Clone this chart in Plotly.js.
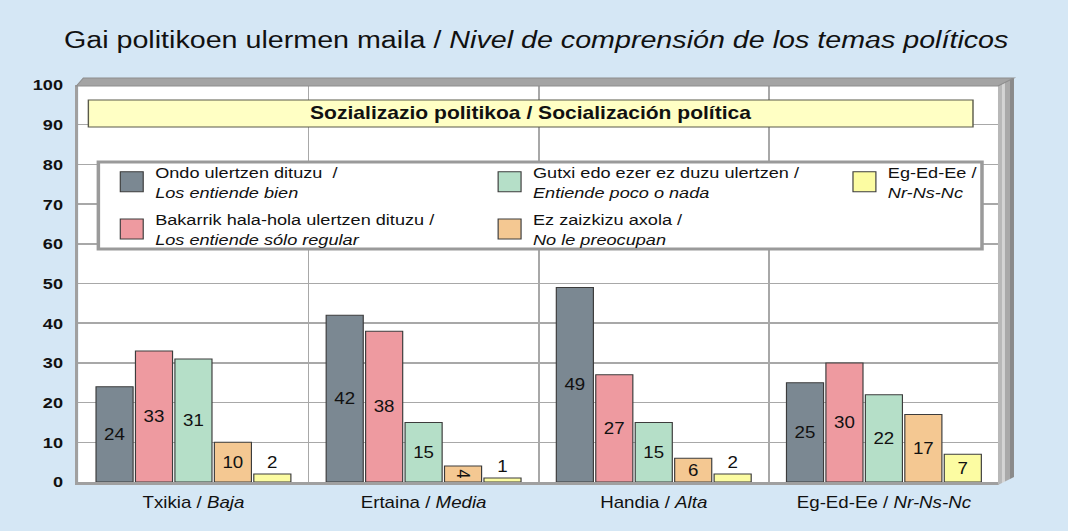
<!DOCTYPE html>
<html>
<head>
<meta charset="utf-8">
<script src="https://cdn.plot.ly/plotly-3.0.1.min.js"></script>
<style>
  html, body { margin: 0; padding: 0; background: #d5e7f5; overflow: hidden; }
  #chart { width: 913px; height: 531px; transform: scaleX(1.16977); transform-origin: 0 0; }
</style>
</head>
<body>
<div id="chart"></div>
<script>
// ---- data ----
const categories = ["Txikia / <i>Baja</i>", "Ertaina / <i>Media</i>", "Handia / <i>Alta</i>", "Eg-Ed-Ee / <i>Nr-Ns-Nc</i>"];
const seriesNames = [
  "Ondo ulertzen dituzu  /<br><i>Los entiende bien</i>",
  "Bakarrik hala-hola ulertzen dituzu /<br><i>Los entiende sólo regular</i>",
  "Gutxi edo ezer ez duzu ulertzen /<br><i>Entiende poco o nada</i>",
  "Ez zaizkizu axola /<br><i>No le preocupan</i>",
  "Eg-Ed-Ee /<br><i>Nr-Ns-Nc</i>"
];
const ondo     = [24, 42, 49, 25];
const bakarrik = [33, 38, 27, 30];
const gutxi    = [31, 15, 15, 22];
const ezAxola  = [10, 4, 6, 17];
const egEdEe   = [2, 1, 2, 7];
const yTicks   = [0, 10, 20, 30, 40, 50, 60, 70, 80, 90, 100];
const titleText = "Gai politikoen ulermen maila / <i>Nivel de comprensión de los temas políticos</i>";
const bannerText = "<b>Sozializazio politikoa / Socialización política</b>";

// ---- style ----
const colors = ["#7b8892", "#ee9aa0", "#b5dfc8", "#f4c892", "#fcfca2"];
const legendsFor = ["legend", "legend", "legend2", "legend2", "legend3"];
const FONT = "Liberation Sans, Arial, sans-serif";

// the chart is drawn at natural width NW and stretched horizontally by S (as in the reference)
const REF_W = 1068, H = 531;
const NW = 913;
const S = REF_W / NW;
// plot area in reference px
const L = 78, R = 999, T = 85, B = 482;
const PW = R - L, PH = B - T;
const fx = px => (px - L) / PW;
const fy = py => (B - py) / PH;

const allSeries = [ondo, bakarrik, gutxi, ezAxola, egEdEe];
const traces = allSeries.map((vals, i) => ({
  type: "bar",
  name: seriesNames[i],
  x: categories,
  y: vals,
  text: vals.map(String),
  textposition: vals.map(v => v < 3 ? "outside" : "inside"),
  insidetextanchor: "middle",
  constraintext: "none",
  cliponaxis: false,
  textfont: { family: FONT, size: 16, color: "#111" },
  marker: { color: colors[i], line: { color: "#3c3c3c", width: 1 } },
  legend: legendsFor[i],
  legendgroup: "g" + i,
  hoverinfo: "skip"
}));

// frame shapes
const shapes = [];
const strips = [[998, 1002, "#b8b8b8"], [1002, 1005, "#d4d4d4"], [1005, 1010, "#a9a9a9"], [1010, 1014, "#8a8a8a"]];
const topY = x => 85 - (x - 998) * (7 / 16);
const botY = x => 485 - (x - 998) * (8 / 16);
strips.forEach(s => {
  const [a, b, c] = s;
  shapes.push({
    type: "path", xref: "paper", yref: "paper", layer: "above",
    path: `M${fx(a)},${fy(topY(a))} L${fx(b)},${fy(topY(b))} L${fx(b)},${fy(botY(b))} L${fx(a)},${fy(botY(a))} Z`,
    fillcolor: c, line: { width: 0 }
  });
});
shapes.push({
  type: "path", xref: "paper", yref: "paper", layer: "above",
  path: `M${fx(76)},${fy(86)} L${fx(83)},${fy(78)} L${fx(1014)},${fy(78)} L${fx(998)},${fy(86)} Z`,
  fillcolor: "#a4a4a4", line: { color: "#8e8e8e", width: 1 }
});
shapes.push({
  type: "rect", xref: "paper", yref: "paper", layer: "above",
  x0: fx(88), x1: fx(973), y0: fy(127), y1: fy(100),
  fillcolor: "#ffffc4", line: { color: "#5a5a4a", width: 1.2 }
});
shapes.push({
  type: "rect", xref: "paper", yref: "paper", layer: "above",
  x0: fx(98), x1: fx(982), y0: fy(249), y1: fy(162),
  fillcolor: "#ffffff", line: { color: "#9a9a9a", width: 3 }
});

const legendBase = {
  xref: "paper", yref: "paper", xanchor: "left", yanchor: "top",
  orientation: "v", bgcolor: "rgba(0,0,0,0)", borderwidth: 0,
  font: { family: FONT, size: 15.5, color: "#111" },
  tracegroupgap: 4, itemwidth: 30, itemclick: false, itemdoubleclick: false
};

const layout = {
  width: NW, height: H,
  paper_bgcolor: "#d5e7f5",
  plot_bgcolor: "#ffffff",
  margin: { l: L / S, r: (REF_W - R) / S, t: T, b: H - B, pad: 0 },
  font: { family: FONT, color: "#111" },
  title: {
    text: titleText,
    font: { family: FONT, size: 24.5, color: "#111" },
    x: 0.502, xref: "container", xanchor: "center",
    y: 1 - 39 / H, yref: "container", yanchor: "middle"
  },
  barmode: "group",
  bargap: 0.143,
  bargroupgap: 0.06,
  xaxis: {
    type: "category",
    tickson: "boundaries",
    showgrid: true, gridcolor: "#a8a8a8", gridwidth: 1.5,
    ticks: "", ticklen: 0,
    showline: true, linecolor: "#a0a0a0", linewidth: 3,
    tickfont: { family: FONT, size: 16, color: "#111" },
    ticklabelstandoff: 4,
    fixedrange: true
  },
  yaxis: {
    range: [0, 100],
    tickmode: "array", tickvals: yTicks, ticktext: yTicks.map(v => "<b>" + v + "</b>"),
    showgrid: true, gridcolor: "#a8a8a8", gridwidth: 1.5,
    zeroline: false,
    ticks: "",
    showline: true, linecolor: "#a0a0a0", linewidth: 3,
    tickfont: { family: FONT, size: 15.5, color: "#111" },
    ticklabelstandoff: 7,
    fixedrange: true
  },
  shapes: shapes,
  annotations: [{
    xref: "paper", yref: "paper",
    x: (fx(88) + fx(973)) / 2, y: (fy(127) + fy(100)) / 2,
    text: bannerText, showarrow: false,
    font: { family: FONT, size: 18, color: "#111" },
    xanchor: "center", yanchor: "middle"
  }],
  legend:  Object.assign({}, legendBase, { x: fx(108), y: fy(155) }),
  legend2: Object.assign({}, legendBase, { x: fx(486), y: fy(155) }),
  legend3: Object.assign({}, legendBase, { x: fx(841), y: fy(155) }),
  showlegend: true
};

function enlargeSwatches() {
  document.querySelectorAll("#chart g.legendpoints path").forEach(p => {
    p.setAttribute("d", "M9.8,10H-9.8V-10H9.8Z");
  });
}

Plotly.newPlot("chart", traces, layout, { displayModeBar: false, staticPlot: true }).then(gd => {
  enlargeSwatches();
  gd.on("plotly_afterplot", enlargeSwatches);
});
</script>
</body>
</html>
